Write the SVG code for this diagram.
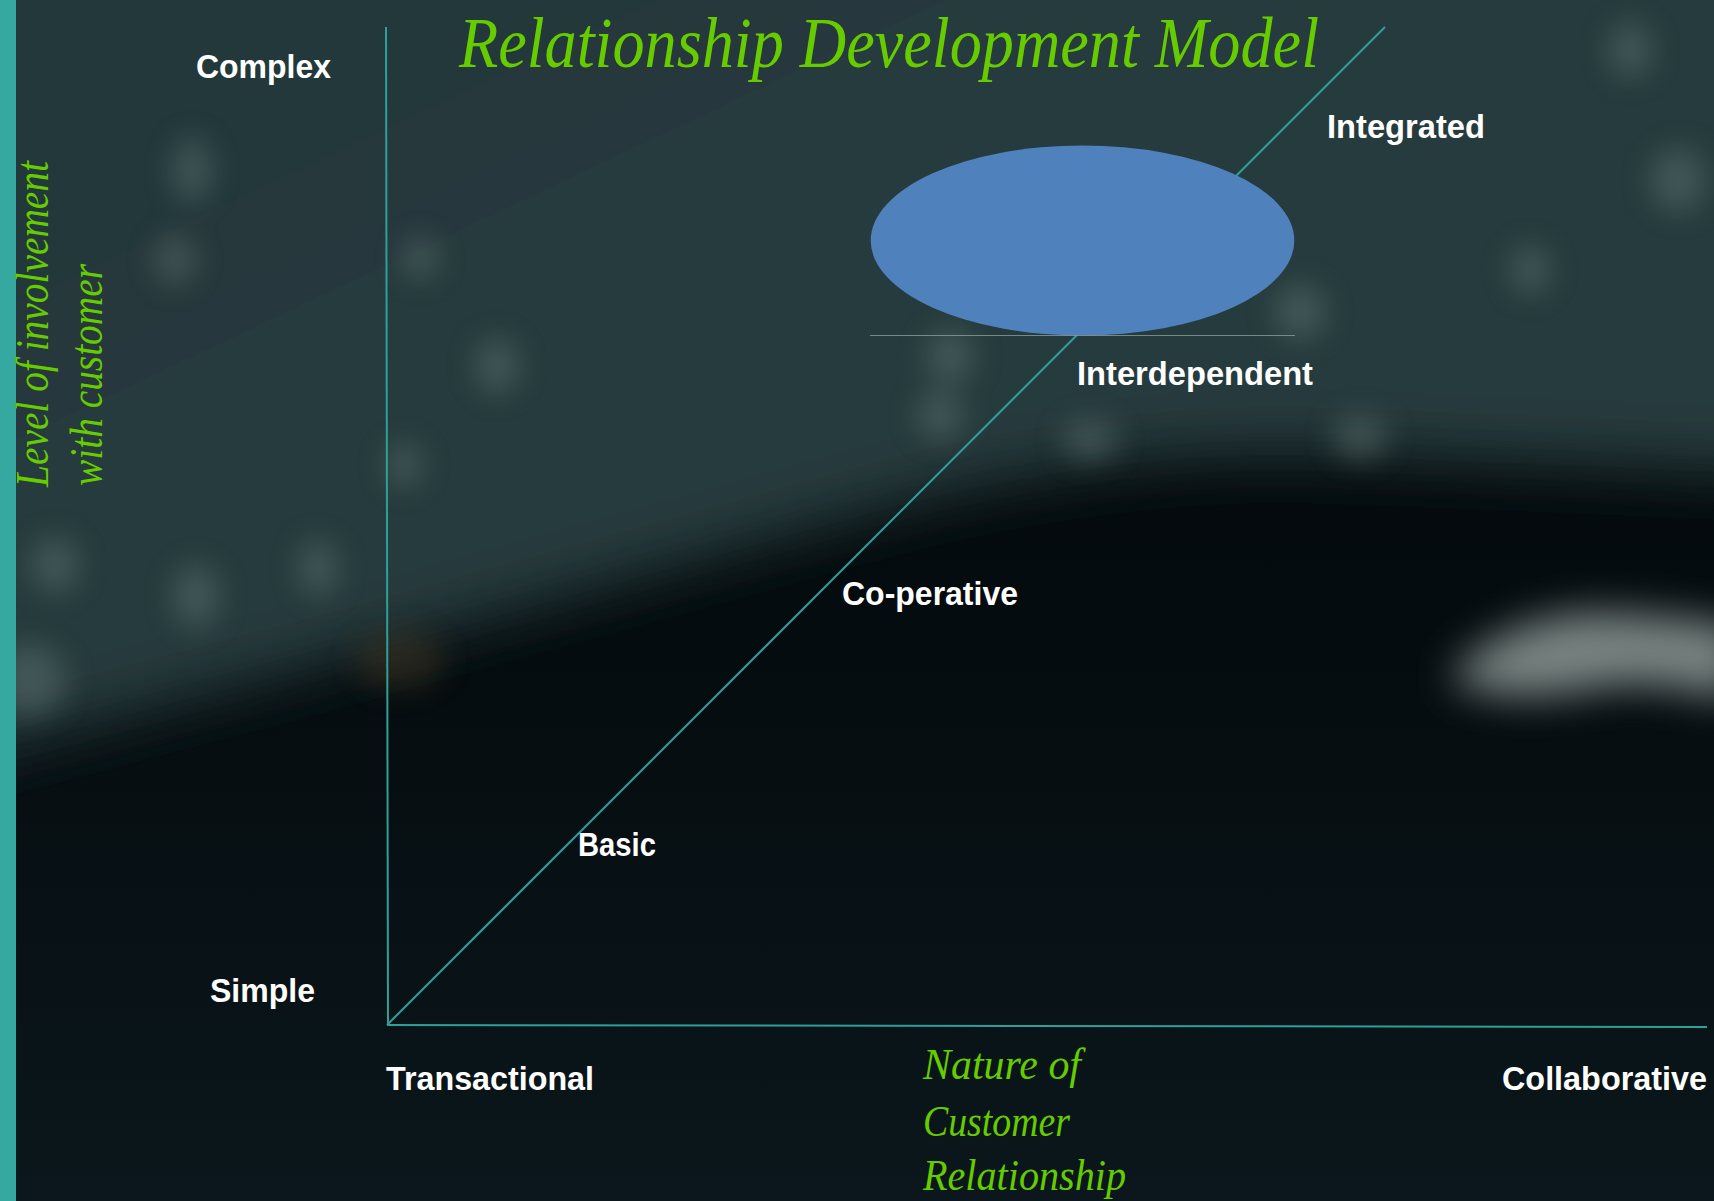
<svg xmlns="http://www.w3.org/2000/svg" width="1714" height="1201" viewBox="0 0 1714 1201">
  <defs>
    <filter id="blurBig" filterUnits="userSpaceOnUse" x="-300" y="-300" width="2314" height="1400"><feGaussianBlur stdDeviation="30"/></filter>
    <filter id="blurMid" x="-50%" y="-50%" width="200%" height="200%"><feGaussianBlur stdDeviation="14"/></filter>
    <filter id="blurPatch" x="-50%" y="-80%" width="200%" height="260%"><feGaussianBlur stdDeviation="20"/></filter>
    <linearGradient id="darkGrad" x1="0" y1="0" x2="0" y2="1">
      <stop offset="0" stop-color="#020607"/>
      <stop offset="0.55" stop-color="#050c0f"/>
      <stop offset="1" stop-color="#0b171c"/>
    </linearGradient>
    <linearGradient id="topGrad" x1="0" y1="0" x2="1" y2="1">
      <stop offset="0" stop-color="#22353a"/>
      <stop offset="0.5" stop-color="#263b3c"/>
      <stop offset="1" stop-color="#26393b"/>
    </linearGradient>
  </defs>
  <style>
    .lbl { font-family: "Liberation Sans", Arial, sans-serif; font-weight: bold; font-size: 33px; fill: #ffffff; }
    .script { font-family: "Liberation Serif", "Times New Roman", serif; font-style: italic; fill: #66cc00; }
    .axis { stroke: #2f9f99; stroke-width: 2; fill: none; }
  </style>

  <!-- background -->
  <g id="background">
    <rect x="0" y="0" width="1714" height="1201" fill="url(#darkGrad)"/>
    <path d="M-200,-200 H1914 V482 C1700,470 1500,462 1300,455 C1150,452 1000,480 900,505 C700,560 500,615 320,665 C160,705 0,750 -200,800 Z" fill="url(#topGrad)" filter="url(#blurBig)"/>
    <g filter="url(#blurMid)" fill="#5d716e" opacity="0.5">
      <ellipse cx="192" cy="170" rx="20" ry="32"/>
      <ellipse cx="420" cy="258" rx="18" ry="20"/>
      <ellipse cx="497" cy="366" rx="22" ry="28"/>
      <ellipse cx="950" cy="356" rx="24" ry="28"/>
      <ellipse cx="940" cy="415" rx="24" ry="24"/>
      <ellipse cx="1300" cy="312" rx="26" ry="28"/>
      <ellipse cx="1678" cy="180" rx="28" ry="32"/>
      <ellipse cx="1630" cy="50" rx="22" ry="28"/>
      <ellipse cx="196" cy="596" rx="24" ry="32"/>
      <ellipse cx="318" cy="568" rx="20" ry="28"/>
      <ellipse cx="404" cy="465" rx="18" ry="22"/>
      <ellipse cx="55" cy="565" rx="24" ry="28"/>
      <ellipse cx="1360" cy="437" rx="28" ry="22"/>
      <ellipse cx="1530" cy="270" rx="20" ry="24"/>
      <ellipse cx="1090" cy="440" rx="28" ry="20"/>
      <ellipse cx="175" cy="260" rx="20" ry="24"/>
      <ellipse cx="30" cy="680" rx="36" ry="36"/>
    </g>
    <ellipse cx="400" cy="660" rx="45" ry="30" fill="#4a3a20" opacity="0.4" filter="url(#blurMid)"/>
    <path d="M1450,680 C1480,635 1545,610 1605,612 C1660,614 1700,620 1740,625 V700 C1690,690 1640,680 1600,688 C1540,700 1490,700 1450,680 Z" fill="#aab6b2" opacity="0.7" filter="url(#blurPatch)"/>
    <rect x="0" y="0" width="16" height="1201" fill="#35a8a0"/>
  </g>

  <!-- connectors: axes and development line -->
  <g id="connectors">
    <line class="axis" x1="386" y1="27" x2="388" y2="1025"/>
    <line class="axis" x1="387" y1="1025" x2="1707" y2="1027"/>
    <line class="axis" x1="387" y1="1025" x2="1385" y2="27"/>
  </g>

  <!-- ellipse -->
  <g id="ellipse-node">
    <ellipse cx="1082.5" cy="240.5" rx="211.8" ry="95" fill="#4f81bd"/>
    <line x1="870" y1="335.5" x2="1295" y2="335.5" stroke="#8c9b99" stroke-width="1" opacity="0.8"/>
  </g>

  <g id="title">
    <text class="script" x="459" y="67" font-size="72" textLength="860" lengthAdjust="spacingAndGlyphs">Relationship Development Model</text>
  </g>

  <g id="y-axis-label">
    <text class="script" font-size="46" transform="translate(48,487) rotate(-90)" textLength="326" lengthAdjust="spacingAndGlyphs">Level of involvement</text>
    <text class="script" font-size="46" transform="translate(102,486) rotate(-90)" textLength="222" lengthAdjust="spacingAndGlyphs">with customer</text>
  </g>

  <g id="x-axis-label">
    <text class="script" x="923" y="1079" font-size="44" textLength="158" lengthAdjust="spacingAndGlyphs">Nature of</text>
    <text class="script" x="923" y="1136" font-size="44" textLength="147" lengthAdjust="spacingAndGlyphs">Customer</text>
    <text class="script" x="923" y="1190" font-size="44" textLength="203" lengthAdjust="spacingAndGlyphs">Relationship</text>
  </g>

  <g id="label-complex"><text class="lbl" x="196" y="78" textLength="135" lengthAdjust="spacingAndGlyphs">Complex</text></g>
  <g id="label-simple"><text class="lbl" x="210" y="1002" textLength="105" lengthAdjust="spacingAndGlyphs">Simple</text></g>
  <g id="label-transactional"><text class="lbl" x="386" y="1090" textLength="208" lengthAdjust="spacingAndGlyphs">Transactional</text></g>
  <g id="label-collaborative"><text class="lbl" x="1502" y="1090" textLength="205" lengthAdjust="spacingAndGlyphs">Collaborative</text></g>
  <g id="label-basic"><text class="lbl" x="578" y="856" textLength="78" lengthAdjust="spacingAndGlyphs">Basic</text></g>
  <g id="label-cooperative"><text class="lbl" x="842" y="605" textLength="176" lengthAdjust="spacingAndGlyphs">Co-perative</text></g>
  <g id="label-interdependent"><text class="lbl" x="1077" y="385" textLength="236" lengthAdjust="spacingAndGlyphs">Interdependent</text></g>
  <g id="label-integrated"><text class="lbl" x="1327" y="138" textLength="158" lengthAdjust="spacingAndGlyphs">Integrated</text></g>
</svg>
